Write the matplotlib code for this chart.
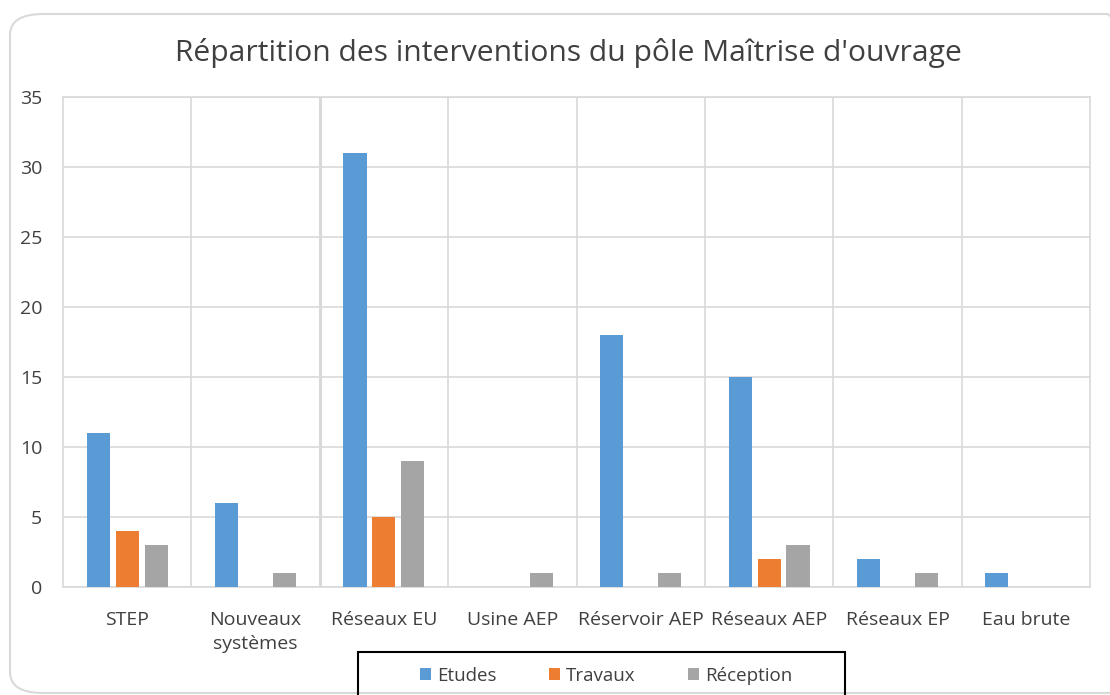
import numpy as np
import matplotlib.pyplot as plt
from matplotlib.patches import Rectangle, FancyBboxPatch

categories = ['STEP', 'Nouveaux\nsystèmes', 'Réseaux EU', 'Usine AEP',
              'Réservoir AEP', 'Réseaux AEP', 'Réseaux EP', 'Eau brute']
etudes = [11, 6, 31, 0, 18, 15, 2, 1]
travaux = [4, 0, 5, 0, 0, 2, 0, 0]
reception = [3, 1, 9, 1, 1, 3, 1, 0]
series_names = ['Etudes', 'Travaux', 'Réception']
colors = ['#5B9BD5', '#ED7D31', '#A5A5A5']

plt.rcParams['font.family'] = ['Open Sans', 'DejaVu Sans']

fig = plt.figure(figsize=(11.1, 6.95), dpi=100)
ax = fig.add_axes([63/1110, 1-587/695, (1090-63)/1110, (587-97)/695])

x = np.arange(len(categories))
w = 0.18
step = 0.225
for i, (vals, name, c) in enumerate(zip([etudes, travaux, reception], series_names, colors)):
    ax.bar(x + (i-1)*step, vals, width=w, color=c, label=name, zorder=3)

ax.set_xlim(-0.5, len(categories)-0.5)
ax.set_ylim(0, 35)
ax.set_yticks(range(0, 36, 5))
ax.yaxis.grid(True, color='#d9d9d9', linewidth=1.2, zorder=0)
for b in np.arange(0.5, len(categories)-0.5, 1):
    lw = 2.2 if b == 1.5 else 1.2
    ax.axvline(b, color='#d9d9d9', linewidth=lw, zorder=1)
for s in ['left', 'right', 'top', 'bottom']:
    ax.spines[s].set_color('#d9d9d9')
    ax.spines[s].set_linewidth(1.2)
ax.tick_params(length=0, colors='#404040', labelsize=14)
ax.tick_params(axis='y', pad=15)
ax.tick_params(axis='x', pad=17)
ax.set_xticks(x)
ax.set_xticklabels(categories, color='#404040', linespacing=1.45)

fig.text(0.512, 1-53/695, "Répartition des interventions du pôle Maîtrise d'ouvrage",
         ha='center', va='center', fontsize=21.6, color='#404040')

# outer chart border
fig.patches.append(FancyBboxPatch((10/1110, 2/695), 1130/1110, 679/695,
                                  boxstyle='round,pad=0,rounding_size=0.03',
                                  transform=fig.transFigure, fill=False,
                                  edgecolor='#d9d9d9', linewidth=1.5, zorder=0))

# legend box
fig.patches.append(Rectangle((358/1110, -0.02), (845-358)/1110, (695-652)/695+0.02,
                             transform=fig.transFigure, fill=False,
                             edgecolor='black', linewidth=1.5))
fig.legend(loc='center', bbox_to_anchor=(606/1110, 1-676/695), ncol=3, frameon=False,
           fontsize=13.5, handlelength=0.6, handleheight=0.6, handletextpad=0.3,
           columnspacing=2.8, labelcolor='#404040')

fig.savefig('out.png', dpi=100)
